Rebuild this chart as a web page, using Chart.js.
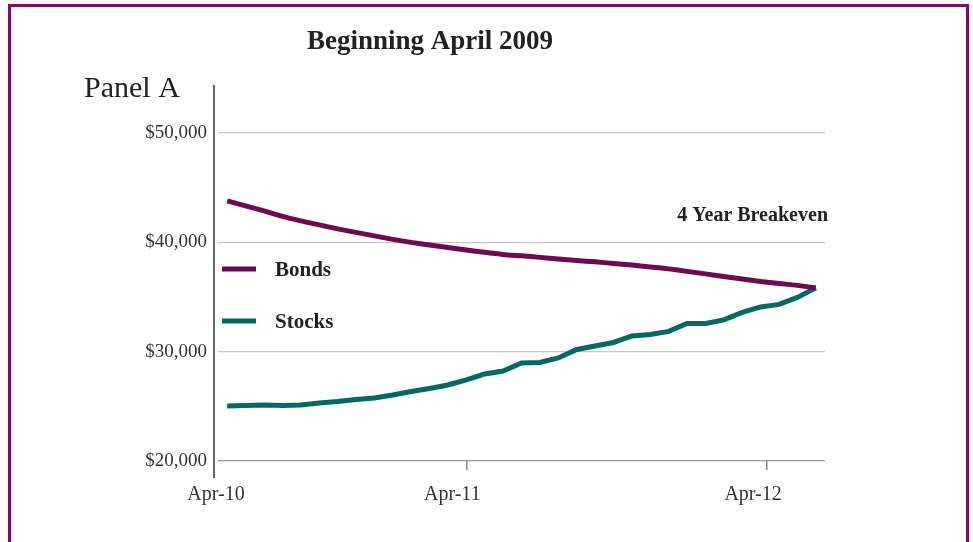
<!DOCTYPE html>
<html>
<head>
<meta charset="utf-8">
<script src="https://cdn.jsdelivr.net/npm/chart.js@4.4.1/dist/chart.umd.min.js"></script>
<style>
  html, body { margin: 0; padding: 0; background: #fff; }
  #wrap { position: relative; width: 973px; height: 542px; overflow: hidden; }
  #frame { position: absolute; left: 8px; top: 4px; width: 955px; height: 560px; border: 3px solid #7b1060; pointer-events: none; }
</style>
</head>
<body>
<div id="wrap">
  <canvas id="myChart" width="973" height="542"></canvas>
  <div id="frame"></div>
</div>
<script>
// monthly values
const bonds = [43790, 43330, 42870, 42370, 41960, 41590, 41230, 40910, 40590, 40270, 39990,
  39760, 39530, 39300, 39080, 38890, 38760, 38620, 38480, 38340, 38210, 38070, 37930,
  37750, 37570, 37340, 37110, 36880, 36650, 36420, 36240, 36060, 35830];
const stocks = [25030, 25080, 25120, 25080, 25120, 25300, 25440, 25630, 25760, 26040, 26360,
  26630, 26950, 27410, 27960, 28230, 28970, 29010, 29420, 30200, 30520, 30840, 31440,
  31570, 31850, 32580, 32580, 32900, 33590, 34090, 34320, 34960, 35830];
const seriesNames = ['Bonds', 'Stocks'];
const seriesColors = ['#6e0a52', '#006963'];
const tickLabels = ['Apr-10', 'Apr-11', 'Apr-12'];
const tickValues = [0.15, 13, 29.35];
const yTicks = [20000, 30000, 40000, 50000];

const SERIF = '"Liberation Serif", "DejaVu Serif", serif';
const toPoints = arr => arr.map((v, i) => ({ x: i, y: v }));

// axis line, titles and the legend drawn on top
const extras = {
  id: 'extras',
  afterDraw(chart) {
    const ctx = chart.ctx;
    const area = chart.chartArea;
    ctx.save();
    ctx.strokeStyle = '#333';
    ctx.lineWidth = 1.5;
    ctx.beginPath();
    ctx.moveTo(area.left - 4, area.top - 2);
    ctx.lineTo(area.left - 4, area.bottom + 17);
    ctx.stroke();

    ctx.fillStyle = '#222';
    ctx.textBaseline = 'alphabetic';
    ctx.textAlign = 'center';
    ctx.font = 'bold 27px ' + SERIF;
    ctx.fillText('Beginning April 2009', 430, 49);

    ctx.textAlign = 'left';
    ctx.font = '30px ' + SERIF;
    ctx.fillText('Panel A', 84, 97);

    ctx.textAlign = 'right';
    ctx.font = 'bold 20px ' + SERIF;
    ctx.fillText('4 Year Breakeven', area.right + 3, 221);

    ctx.textAlign = 'left';
    const legendY = [269, 321];
    seriesNames.forEach((name, i) => {
      ctx.strokeStyle = seriesColors[i];
      ctx.lineWidth = 5;
      ctx.beginPath();
      ctx.moveTo(222, legendY[i]);
      ctx.lineTo(256, legendY[i]);
      ctx.stroke();
      ctx.fillStyle = '#222';
      ctx.font = 'bold 21px ' + SERIF;
      ctx.fillText(name, 275, legendY[i] + 7);
    });
    ctx.restore();
  }
};

const ctx = document.getElementById('myChart').getContext('2d');
new Chart(ctx, {
  type: 'line',
  data: {
    datasets: [
      { label: seriesNames[0], data: toPoints(bonds), borderColor: seriesColors[0], borderWidth: 5, pointRadius: 0, tension: 0.2 },
      { label: seriesNames[1], data: toPoints(stocks), borderColor: seriesColors[1], borderWidth: 5, pointRadius: 0, tension: 0 }
    ]
  },
  options: {
    responsive: false,
    devicePixelRatio: 1,
    animation: false,
    layout: { padding: { left: 0, top: 87, right: 148, bottom: 0 } },
    plugins: { legend: { display: false }, tooltip: { enabled: false } },
    scales: {
      x: {
        type: 'linear',
        min: -0.5,
        max: 32.5,
        afterBuildTicks: s => { s.ticks = tickValues.map(v => ({ value: v })); },
        afterFit: s => { s.height = 81; },
        border: { display: false },
        grid: {
          drawOnChartArea: false,
          tickLength: 9,
          color: c => c.index === 0 ? 'rgba(0,0,0,0)' : '#888',
          lineWidth: 1.5
        },
        ticks: {
          autoSkip: false,
          maxRotation: 0,
          labelOffset: -14,
          padding: 13,
          color: '#333',
          font: { family: SERIF, size: 20 },
          callback: (v, i) => tickLabels[i]
        }
      },
      y: {
        min: 20000,
        max: 54200,
        afterBuildTicks: s => { s.ticks = yTicks.map(v => ({ value: v })); },
        afterFit: s => { s.width = 218; },
        border: { display: false },
        grid: {
          drawTicks: false,
          color: c => c.tick && c.tick.value === 20000 ? '#9a9a9a' : '#c8c8c8',
          lineWidth: 1.2
        },
        ticks: {
          padding: 11,
          color: '#333',
          font: { family: SERIF, size: 19 },
          callback: v => '$' + v.toLocaleString('en-US')
        }
      }
    }
  },
  plugins: [extras]
});
</script>
</body>
</html>
